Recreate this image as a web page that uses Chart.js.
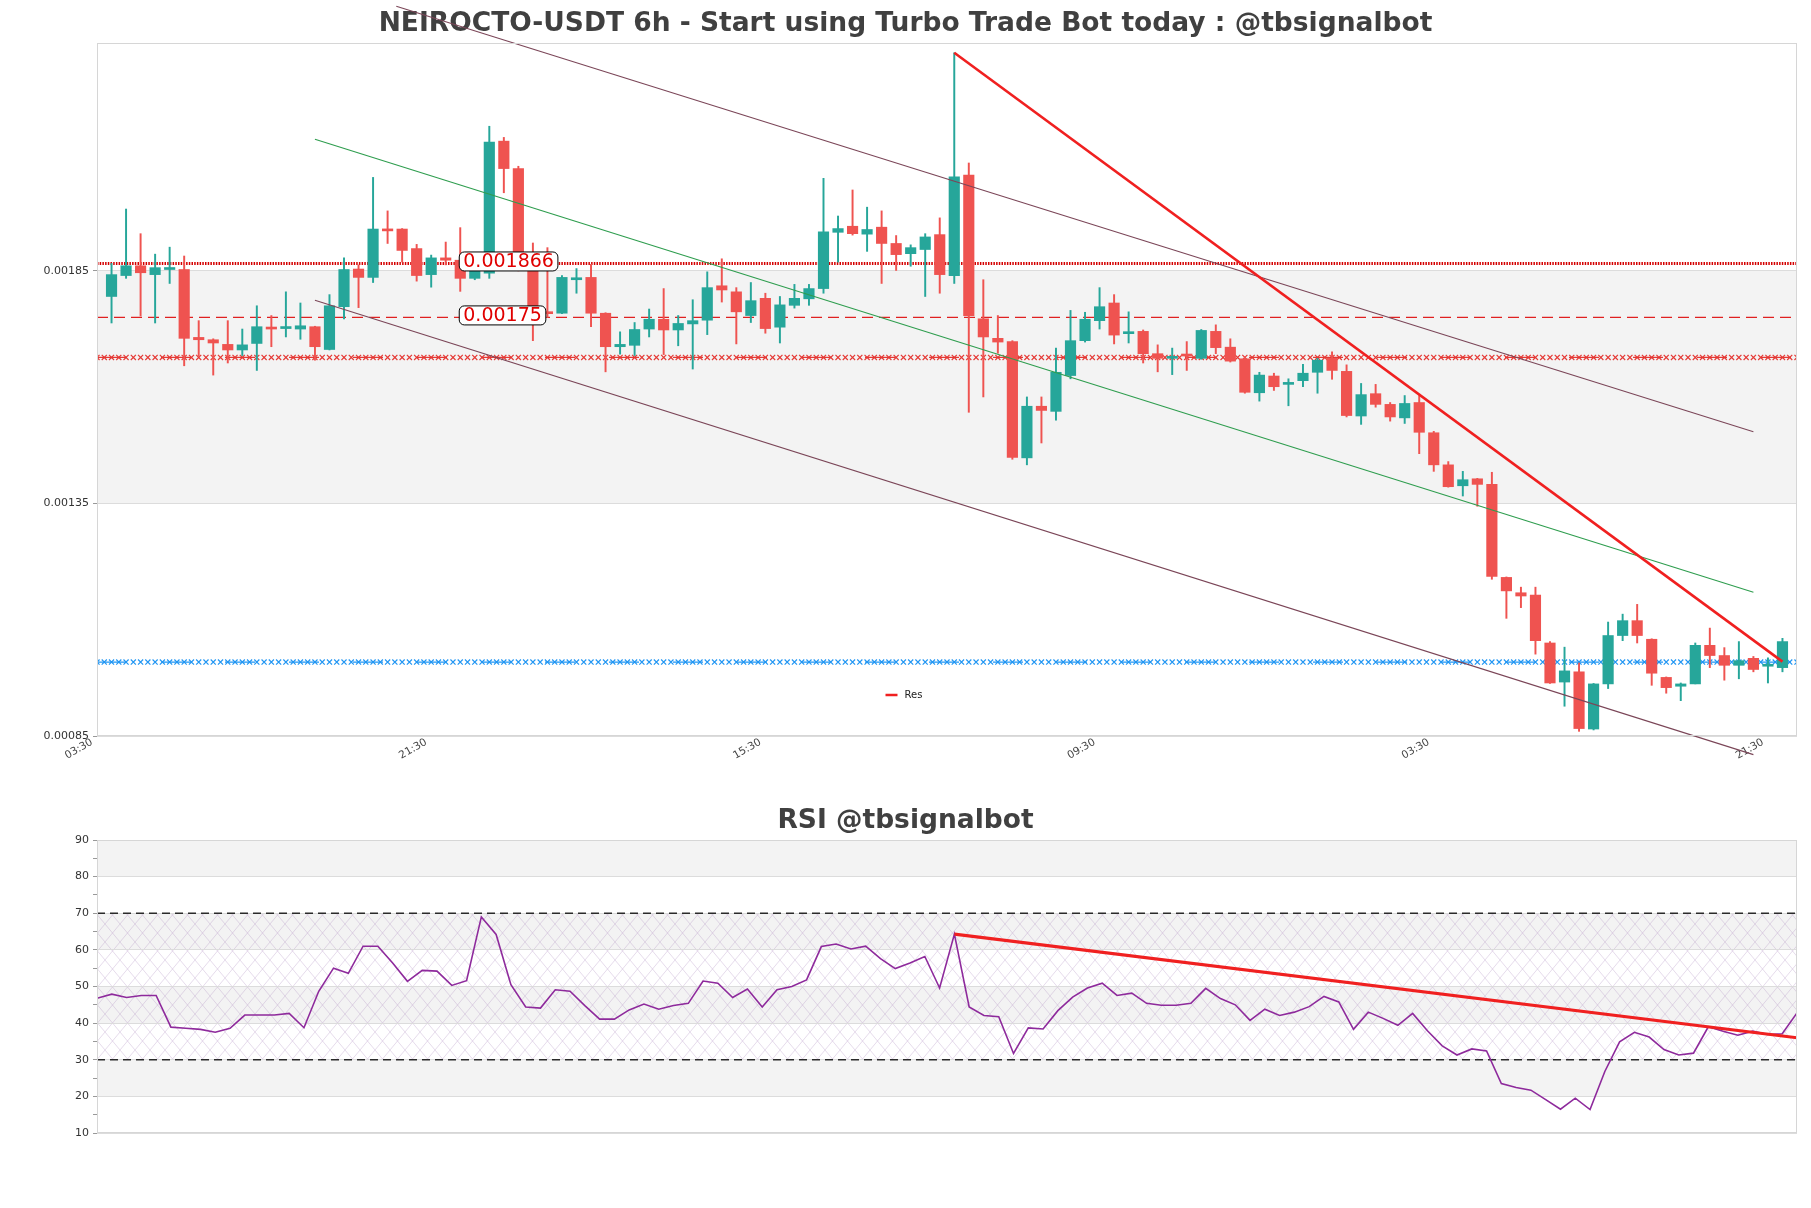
<!DOCTYPE html>
<html>
<head>
<meta charset="utf-8">
<title>NEIROCTO-USDT 6h</title>
<script src="https://cdn.jsdelivr.net/npm/chart.js@4.4.1/dist/chart.umd.min.js"></script>
<style>
  html, body { margin: 0; padding: 0; background: #fff; }
  #wrap { position: relative; width: 1811px; height: 1208px; }
  #priceBox { position: absolute; left: 0; top: 0; width: 1811px; height: 780px; }
  #rsiBox { position: absolute; left: 0; top: 780px; width: 1811px; height: 428px; }
</style>
</head>
<body>
<div id="wrap">
  <div id="priceBox"><canvas id="priceChart"></canvas></div>
  <div id="rsiBox"><canvas id="rsiChart"></canvas></div>
</div>
<script>
const FONT = "'DejaVu Sans', sans-serif";

// candles, 6h, oldest first
const opens = [
  0.001795, 0.00184, 0.001861, 0.001842, 0.001853, 0.001853, 0.001707, 0.001702, 0.001692, 0.00168,
  0.001694, 0.001729, 0.001726, 0.001725, 0.00173, 0.001681, 0.001773, 0.001854, 0.001836, 0.00194,
  0.00194, 0.001898, 0.001842, 0.001878, 0.001873, 0.001834, 0.001845, 0.002129, 0.00207, 0.00186,
  0.00176, 0.001759, 0.001831, 0.001836, 0.001759, 0.001687, 0.00169, 0.001725, 0.001746, 0.001723,
  0.001736, 0.001744, 0.001818, 0.001805, 0.001754, 0.001791, 0.001729, 0.001776, 0.00179, 0.001812,
  0.001933, 0.001946, 0.001929, 0.001944, 0.001909, 0.001887, 0.001896, 0.001928, 0.00184, 0.002056,
  0.001747, 0.001705, 0.001698, 0.001448, 0.001559, 0.001548, 0.001625, 0.0017, 0.001743, 0.001781,
  0.001715, 0.00172, 0.001672, 0.001662, 0.001671, 0.001662, 0.00172, 0.001686, 0.001661, 0.001588,
  0.001624, 0.001606, 0.001614, 0.001632, 0.001662, 0.001634, 0.001538, 0.001586, 0.001563, 0.001534,
  0.001567, 0.001502, 0.001433, 0.001388, 0.001403, 0.001391, 0.001191, 0.001158, 0.001153, 0.00105,
  0.000966, 0.000988, 0.000865, 0.000962, 0.001066, 0.001098, 0.001058, 0.000976, 0.000957, 0.000962,
  0.001045, 0.001023, 0.001002, 0.001017, 0.001, 0.000997
];
const highs = [
  0.001866, 0.001983, 0.00193, 0.001886, 0.001901, 0.001882, 0.001743, 0.001704, 0.001743, 0.001725,
  0.001775, 0.001754, 0.001805, 0.001781, 0.001731, 0.001799, 0.001878, 0.001863, 0.002051, 0.001979,
  0.001941, 0.001907, 0.001884, 0.001912, 0.001943, 0.001853, 0.002161, 0.002137, 0.002075, 0.00191,
  0.0019, 0.00184, 0.001855, 0.001864, 0.00176, 0.001719, 0.001739, 0.001768, 0.001812, 0.001754,
  0.001788, 0.001848, 0.001876, 0.001814, 0.001825, 0.001802, 0.001795, 0.001821, 0.001821, 0.002049,
  0.001968, 0.002024, 0.001987, 0.001979, 0.001926, 0.001906, 0.00193, 0.001964, 0.002319, 0.002082,
  0.001831, 0.001754, 0.0017, 0.001579, 0.001579, 0.001684, 0.001765, 0.001761, 0.001814, 0.001799,
  0.001762, 0.001723, 0.001691, 0.001684, 0.001698, 0.001724, 0.001734, 0.001704, 0.001666, 0.001632,
  0.00163, 0.001618, 0.001649, 0.001662, 0.001676, 0.001648, 0.001608, 0.001606, 0.001567, 0.001582,
  0.001582, 0.001505, 0.00144, 0.001419, 0.001404, 0.001417, 0.001192, 0.00117, 0.00117, 0.001053,
  0.001041, 0.001007, 0.000963, 0.001095, 0.001112, 0.001133, 0.001059, 0.000977, 0.000964, 0.00105,
  0.001082, 0.00104, 0.001053, 0.001021, 0.001018, 0.00106
];
const lows = [
  0.001738, 0.001834, 0.001753, 0.001738, 0.001823, 0.001646, 0.001666, 0.001626, 0.001652, 0.001668,
  0.001636, 0.001687, 0.001708, 0.001703, 0.001658, 0.00168, 0.001747, 0.001771, 0.001825, 0.001909,
  0.001869, 0.001828, 0.001815, 0.001863, 0.001806, 0.001831, 0.001834, 0.002018, 0.00185, 0.0017,
  0.00175, 0.001758, 0.001802, 0.00173, 0.001633, 0.001671, 0.001668, 0.001708, 0.00167, 0.001689,
  0.001639, 0.001713, 0.001783, 0.001693, 0.001739, 0.001716, 0.001695, 0.00177, 0.001776, 0.001802,
  0.001869, 0.001927, 0.001892, 0.001823, 0.001851, 0.00186, 0.001795, 0.001802, 0.001823, 0.001546,
  0.001579, 0.001673, 0.001445, 0.001433, 0.00148, 0.001529, 0.001618, 0.001697, 0.001725, 0.001693,
  0.001695, 0.001652, 0.001633, 0.001627, 0.001636, 0.00166, 0.001672, 0.001654, 0.001587, 0.00157,
  0.001593, 0.00156, 0.001601, 0.001587, 0.001617, 0.001536, 0.00152, 0.001557, 0.001527, 0.001522,
  0.001457, 0.001419, 0.001385, 0.001366, 0.001344, 0.001187, 0.001103, 0.001126, 0.001026, 0.000963,
  0.000914, 0.00086, 0.000863, 0.000952, 0.001055, 0.00105, 0.000959, 0.000942, 0.000926, 0.000962,
  0.000997, 0.00097, 0.000973, 0.000988, 0.000964, 0.000988
];
const closes = [
  0.001842, 0.001861, 0.001846, 0.001857, 0.001855, 0.001705, 0.001702, 0.001695, 0.00168, 0.001691,
  0.00173, 0.001725, 0.00173, 0.001732, 0.001687, 0.001775, 0.001853, 0.001836, 0.00194, 0.001936,
  0.001894, 0.00184, 0.001878, 0.001873, 0.001834, 0.00185, 0.002127, 0.00207, 0.00186, 0.00175,
  0.001758, 0.001836, 0.001833, 0.001759, 0.001687, 0.001692, 0.001724, 0.001746, 0.001723, 0.001737,
  0.001743, 0.001814, 0.001809, 0.001762, 0.001786, 0.001726, 0.001777, 0.001791, 0.001812, 0.001934,
  0.001941, 0.00193, 0.001939, 0.001909, 0.001885, 0.0019, 0.001923, 0.001842, 0.002052, 0.001754,
  0.001708, 0.001697, 0.001449, 0.001559, 0.00155, 0.001632, 0.0017, 0.001746, 0.001773, 0.001712,
  0.001719, 0.001672, 0.001662, 0.001664, 0.001667, 0.001722, 0.001685, 0.001656, 0.001589, 0.001626,
  0.001601, 0.00161, 0.00163, 0.001658, 0.001636, 0.001539, 0.001584, 0.001563, 0.001536, 0.001565,
  0.001503, 0.001433, 0.001386, 0.001401, 0.001391, 0.001193, 0.001162, 0.001151, 0.001055, 0.000964,
  0.00099, 0.000866, 0.000962, 0.001066, 0.001098, 0.001066, 0.000985, 0.000954, 0.000962, 0.001045,
  0.001023, 0.001002, 0.001012, 0.000993, 0.001003, 0.001053
];

const rsiValues = [
  46.8, 47.9, 47.0, 47.55, 47.55, 38.9, 38.6, 38.3, 37.5, 38.6,
  42.2, 42.2, 42.2, 42.65, 38.75, 48.7, 55.0, 53.6, 61.0, 61.0,
  56.4, 51.4, 54.4, 54.2, 50.3, 51.6, 69.0, 64.2, 50.5, 44.4,
  44.1, 49.1, 48.7, 44.8, 41.1, 41.1, 43.6, 45.2, 43.8, 44.8,
  45.4, 51.5, 50.9, 47.0, 49.3, 44.4, 49.1, 50.0, 51.8, 60.9,
  61.6, 60.25, 61.0, 57.6, 54.9, 56.4, 58.2, 49.6, 64.3, 44.4,
  42.1, 41.75, 31.7, 38.7, 38.4, 43.4, 47.1, 49.6, 50.9, 47.55,
  48.2, 45.4, 44.9, 44.9, 45.4, 49.5, 46.7, 45.0, 40.75, 43.8,
  42.1, 43.0, 44.5, 47.3, 45.8, 38.3, 43.0, 41.3, 39.4, 42.65,
  37.9, 33.8, 31.3, 32.95, 32.4, 23.5, 22.4, 21.7, 19.1, 16.5,
  19.5, 16.4, 26.8, 34.9, 37.5, 36.2, 32.8, 31.3, 31.8, 39.0,
  37.8, 36.7, 37.8, 36.9, 37.1, 42.8
];

// x axis: candle index, tick labels every 23 candles
const tickPositions = [-1, 22, 45, 68, 91, 114];
const tickLabels = ['03:30', '21:30', '15:30', '09:30', '03:30', '21:30'];
const priceTicks = [0.00085, 0.00135, 0.00185];
const rsiMajorTicks = [10, 20, 30, 40, 50, 60, 70, 80, 90];
const rsiMinorTicks = [15, 25, 35, 45, 55, 65, 75, 85];

// levels and trend lines [candle index, price]
const resDotted = 0.001866;
const resDashed = 0.00175;
const redMarkerLevel = 0.001664;
const blueMarkerLevel = 0.001009;
const channelUpper = [[19.6, 0.002419], [113, 0.001504]];
const channelMid = [[14, 0.002133], [113, 0.001159]];
const channelLower = [[14, 0.001787], [113, 0.00081]];
const resLine = [[58, 0.002319], [115, 0.00101]];
const rsiTrend = [[58, 64.3], [115, 36.0]];
const labelIndex = 24;

const GREEN = '#26a69a';
const RED = '#ef5350';

const idx = opens.map((_, i) => i);
const up = idx.map(i => closes[i] >= opens[i]);
const candleColors = up.map(u => u ? GREEN : RED);

const toPts = arr => arr.map(p => ({ x: p[0], y: p[1] }));
const levelPts = v => [{ x: -1, y: v }, { x: 116, y: v }];
// a marker on every half candle step along the level
const markerPts = v => {
  const pts = [];
  [-1].concat(idx, [116]).forEach(i => {
    pts.push({ x: i, y: v });
    if (i < 116) pts.push({ x: i + 0.5, y: v });
  });
  return pts;
};

// empty right axis keeps the right gap without shifting the title
const rightGap = {
  position: 'right', display: true,
  afterFit: s => { s.width = 14; },
  ticks: { display: false }, grid: { display: false }, border: { display: false }
};

// light band fill under grid lines
function bandPlugin(id, bands, color, hatch) {
  return {
    id: id,
    beforeDraw(chart) {
      const { ctx, chartArea: a, scales: { y } } = chart;
      ctx.save();
      ctx.fillStyle = color;
      bands.forEach(b => {
        const t = y.getPixelForValue(b[1]), bt = y.getPixelForValue(b[0]);
        ctx.fillRect(a.left, t, a.right - a.left, bt - t);
      });
      if (hatch) {
        const c = document.createElement('canvas');
        c.width = 15; c.height = 18;
        const g = c.getContext('2d');
        g.strokeStyle = 'rgba(175,140,195,0.45)';
        g.lineWidth = 0.7;
        g.beginPath();
        g.moveTo(0, 0); g.lineTo(15, 18);
        g.moveTo(15, 0); g.lineTo(0, 18);
        g.stroke();
        ctx.fillStyle = ctx.createPattern(c, 'repeat');
        const t = y.getPixelForValue(hatch[1]), bt = y.getPixelForValue(hatch[0]);
        ctx.fillRect(a.left, t, a.right - a.left, bt - t);
      }
      ctx.restore();
    }
  };
}

const framePlugin = {
  id: 'frame',
  afterDraw(chart) {
    const { ctx, chartArea: a } = chart;
    ctx.save();
    ctx.strokeStyle = '#d6d6d6';
    ctx.lineWidth = 1;
    ctx.strokeRect(a.left + 0.5, a.top + 0.5, a.right - a.left - 1, a.bottom - a.top - 1);
    ctx.restore();
  }
};

const levelLabelPlugin = {
  id: 'levelLabels',
  afterDatasetsDraw(chart) {
    const { ctx, scales: { x, y } } = chart;
    ctx.save();
    ctx.font = '19px ' + FONT;
    ctx.textBaseline = 'middle';
    [resDotted, resDashed].forEach(v => {
      const text = String(v);
      const px = x.getPixelForValue(labelIndex) + 3;
      const py = y.getPixelForValue(v) - 2;
      const w = ctx.measureText(text).width;
      const bx = px - 4, by = py - 9.5, bw = w + 8, bh = 19;
      ctx.beginPath();
      ctx.roundRect(bx, by, bw, bh, 5);
      ctx.fillStyle = '#fff';
      ctx.fill();
      ctx.strokeStyle = '#000';
      ctx.lineWidth = 1;
      ctx.stroke();
      ctx.fillStyle = '#e00000';
      ctx.fillText(text, px, py + 1);
    });
    ctx.restore();
  }
};

const resLegendPlugin = {
  id: 'resLegend',
  afterDatasetsDraw(chart) {
    const { ctx, chartArea: a } = chart;
    const ds = chart.data.datasets.find(d => d.label === 'Res');
    const cx = chart.width / 2 - 20;
    const cy = a.bottom - 41;
    ctx.save();
    ctx.strokeStyle = ds.borderColor;
    ctx.lineWidth = 2.5;
    ctx.beginPath();
    ctx.moveTo(cx, cy); ctx.lineTo(cx + 12, cy);
    ctx.stroke();
    ctx.fillStyle = '#222';
    ctx.font = '10px ' + FONT;
    ctx.textBaseline = 'middle';
    ctx.fillText(ds.label, cx + 19, cy);
    ctx.restore();
  }
};

const priceChart = new Chart(document.getElementById('priceChart'), {
  type: 'bar',
  data: {
    datasets: [
      {
        type: 'line', label: 'Res', data: toPts(resLine), borderColor: '#f02020',
        borderWidth: 2.6, pointRadius: 0, order: 0
      },
      {
        type: 'line', label: 'upper', data: toPts(channelUpper), borderColor: '#7b4658',
        borderWidth: 1.1, pointRadius: 0, clip: false, order: 0
      },
      {
        type: 'line', label: 'mid', data: toPts(channelMid), borderColor: '#2e9d4e',
        borderWidth: 1.1, pointRadius: 0, clip: false, order: 0
      },
      {
        type: 'line', label: 'lower', data: toPts(channelLower), borderColor: '#7b4658',
        borderWidth: 1.1, pointRadius: 0, clip: false, order: 0
      },
      {
        type: 'line', label: 'res1', data: levelPts(resDotted), borderColor: '#d40000',
        borderWidth: 3, borderDash: [1.5, 1.2], pointRadius: 0, order: 3
      },
      {
        type: 'line', label: 'res2', data: levelPts(resDashed), borderColor: '#e02020',
        borderWidth: 1.4, borderDash: [11, 6], pointRadius: 0, order: 3
      },
      {
        type: 'line', label: 'sup1', data: markerPts(redMarkerLevel), borderColor: '#e53935',
        borderWidth: 1.2, borderDash: [30, 34], pointStyle: 'crossRot', pointRadius: 3.6,
        pointBorderWidth: 1.2, pointBorderColor: '#e53935', order: 3
      },
      {
        type: 'line', label: 'sup2', data: markerPts(blueMarkerLevel), borderColor: '#2196f3',
        borderWidth: 1.2, borderDash: [30, 34], pointStyle: 'crossRot', pointRadius: 3.6,
        pointBorderWidth: 1.2, pointBorderColor: '#2196f3', order: 3
      },
      {
        label: 'body', data: idx.map(i => ({ x: i, y: [Math.min(opens[i], closes[i]), Math.max(opens[i], closes[i])] })),
        backgroundColor: candleColors, borderWidth: 0, barThickness: 10.5, minBarLength: 2,
        grouped: false, order: 1
      },
      {
        label: 'wick', data: idx.map(i => ({ x: i, y: [lows[i], highs[i]] })),
        backgroundColor: candleColors, borderWidth: 0, barThickness: 1.3,
        grouped: false, order: 2
      }
    ]
  },
  options: {
    responsive: true,
    maintainAspectRatio: false,
    animation: false,
    events: [],
    layout: { padding: 0 },
    plugins: {
      legend: { display: false },
      tooltip: { enabled: false },
      title: {
        display: true,
        text: 'NEIROCTO-USDT 6h - Start using Turbo Trade Bot today : @tbsignalbot',
        color: '#404040',
        font: { family: FONT, size: 26.5, weight: 'bold', lineHeight: 1.2 },
        padding: { top: 8.5, bottom: 2.7 }
      }
    },
    scales: {
      x: {
        type: 'linear', min: -1, max: 116, offset: false,
        afterBuildTicks: s => { s.ticks = tickPositions.map(v => ({ value: v })); },
        afterFit: s => { s.height = 44; },
        ticks: {
          autoSkip: false, minRotation: 30, maxRotation: 30, padding: 0, labelOffset: -5,
          color: '#444', font: { family: FONT, size: 10.5 },
          callback: (v, i) => tickLabels[i]
        },
        grid: { display: false, drawTicks: false },
        border: { display: false }
      },
      y: {
        min: 0.00085, max: 0.00234,
        afterBuildTicks: s => { s.ticks = priceTicks.map(v => ({ value: v })); },
        afterFit: s => { s.width = 97; },
        ticks: {
          padding: 4, color: '#333', font: { family: FONT, size: 11 },
          callback: v => v.toFixed(5)
        },
        grid: { color: '#dcdcdc', tickLength: 4, tickColor: '#999' },
        border: { display: false }
      },
      yRight: rightGap
    }
  },
  plugins: [bandPlugin('priceBands', [[0.00135, 0.00185]], '#f3f3f3', null), framePlugin, levelLabelPlugin, resLegendPlugin]
});

const rsiChart = new Chart(document.getElementById('rsiChart'), {
  type: 'line',
  data: {
    datasets: [
      {
        label: 'RSI trend', data: toPts(rsiTrend), borderColor: '#f02020',
        borderWidth: 3.2, pointRadius: 0, order: 0
      },
      {
        label: 'RSI', data: idx.map(i => ({ x: i, y: rsiValues[i] })), borderColor: '#8e2a9c',
        borderWidth: 1.6, pointRadius: 0, tension: 0, order: 1
      },
      {
        label: 'overbought', data: [{ x: 0, y: 70 }, { x: 115, y: 70 }], borderColor: '#2a2a2a',
        borderWidth: 1.4, borderDash: [8, 5], pointRadius: 0, order: 2
      },
      {
        label: 'oversold', data: [{ x: 0, y: 30 }, { x: 115, y: 30 }], borderColor: '#2a2a2a',
        borderWidth: 1.4, borderDash: [8, 5], pointRadius: 0, order: 2
      }
    ]
  },
  options: {
    responsive: true,
    maintainAspectRatio: false,
    animation: false,
    events: [],
    layout: { padding: { left: 0, right: 0, top: 0, bottom: 75 } },
    plugins: {
      legend: { display: false },
      tooltip: { enabled: false },
      title: {
        display: true,
        text: 'RSI @tbsignalbot',
        color: '#404040',
        font: { family: FONT, size: 26.5, weight: 'bold', lineHeight: 1.2 },
        padding: { top: 25, bottom: 3.2 }
      }
    },
    scales: {
      x: { type: 'linear', min: 0, max: 115, display: false },
      y: {
        min: 10, max: 90,
        afterBuildTicks: s => {
          s.ticks = rsiMajorTicks.concat(rsiMinorTicks).sort((a, b) => a - b).map(v => ({ value: v }));
        },
        afterFit: s => { s.width = 97; },
        ticks: {
          padding: 4, color: '#333', font: { family: FONT, size: 11 },
          callback: v => rsiMajorTicks.includes(v) ? String(v) : ''
        },
        grid: {
          color: c => rsiMajorTicks.includes(c.tick && c.tick.value) ? '#dcdcdc' : 'rgba(0,0,0,0)',
          tickColor: '#999', tickLength: 4
        },
        border: { display: false }
      },
      yRight: rightGap
    }
  },
  plugins: [bandPlugin('rsiBands', [[20, 30], [40, 50], [60, 70], [80, 90]], '#f3f3f3', [30, 70]), framePlugin]
});
</script>
</body>
</html>
